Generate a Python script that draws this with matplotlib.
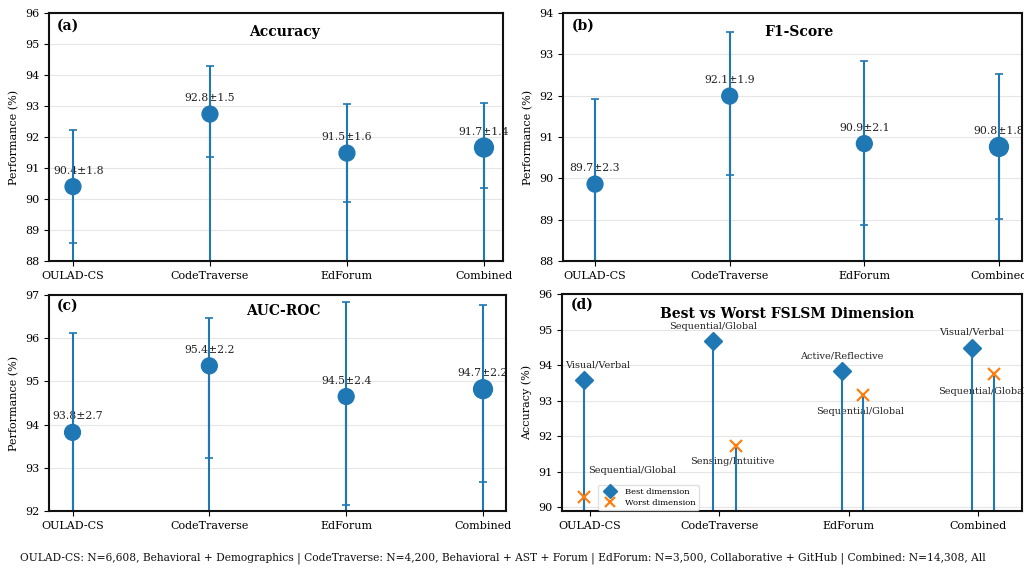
import matplotlib
matplotlib.use("Agg")
import matplotlib.pyplot as plt
import numpy as np

plt.rcParams['font.family'] = ['DejaVu Serif']

categories = ["OULAD-CS", "CodeTraverse", "EdForum", "Combined"]

# (a) Accuracy
acc_point = [90.40, 92.74, 91.48, 91.66]
acc_cap_hi = [92.23, 94.28, 93.07, 93.11]
acc_cap_lo = [88.59, 91.34, 89.91, 90.34]
acc_mean = [90.4, 92.8, 91.5, 91.7]
acc_std = [1.8, 1.5, 1.6, 1.4]

# (b) F1-Score
f1_point = [89.86, 91.99, 90.84, 90.76]
f1_cap_hi = [91.93, 93.55, 92.83, 92.52]
f1_cap_lo = [87.40, 90.08, 88.86, 89.01]
f1_mean = [89.7, 92.1, 90.9, 90.8]
f1_std = [2.3, 1.9, 2.1, 1.8]

# (c) AUC-ROC
auc_point = [93.82, 95.36, 94.65, 94.82]
auc_cap_hi = [96.11, 96.46, 96.83, 96.77]
auc_cap_lo = [91.10, 93.22, 92.15, 92.68]
auc_mean = [93.8, 95.4, 94.5, 94.7]
auc_std = [2.7, 2.2, 2.4, 2.2]

# (d) Best vs worst FSLSM dimension
best_acc = [93.57, 94.67, 93.83, 94.47]
best_dim = ["Visual/Verbal", "Sequential/Global", "Active/Reflective", "Visual/Verbal"]
worst_acc = [90.29, 91.73, 93.15, 93.76]
worst_dim = ["Sequential/Global", "Sensing/Intuitive", "Sequential/Global", "Sequential/Global"]

footer = ("OULAD-CS: N=6,608, Behavioral + Demographics | CodeTraverse: N=4,200, "
          "Behavioral + AST + Forum | EdForum: N=3,500, Collaborative + GitHub | "
          "Combined: N=14,308, All")

BLUE = "#1f77b4"
ORANGE = "#ff7f0e"
TXT = "#222222"

W, H = 1024, 570
fig = plt.figure(figsize=(W / 100, H / 100), dpi=100)


def px_axes(left, right, top, bottom):
    return fig.add_axes([left / W, (H - bottom) / H, (right - left) / W, (bottom - top) / H])


def style_axes(ax, ylim, xlim, ylabel):
    ax.set_ylim(*ylim)
    ax.set_xlim(*xlim)
    ax.set_xticks(range(len(categories)))
    ax.set_xticklabels(categories, fontsize=8)
    ax.tick_params(axis='y', labelsize=8)
    ax.yaxis.grid(True, color='#e6e6e6', lw=0.8)
    ax.set_axisbelow(True)
    for s in ax.spines.values():
        s.set_linewidth(1.5)
        s.set_color('#111111')
    ax.set_ylabel(ylabel, fontsize=8)


def metric_panel(ax, point, hi, lo, mean, std, ylim, xlim, title, tag, title_x, first_dx):
    x = np.arange(len(categories))
    point = np.array(point)
    ax.vlines(x, 0, point, color=BLUE, lw=1.5, zorder=2)
    ax.errorbar(x, point, yerr=[point - np.array(lo), np.array(hi) - point],
                fmt='none', ecolor=BLUE, elinewidth=1.5, capsize=3, capthick=1.2, zorder=2)
    sizes = [130, 130, 130, 185]
    ax.scatter(x, point, s=sizes, color=BLUE, zorder=4)
    for i, (xi, p, m, sd) in enumerate(zip(x, point, mean, std)):
        dx = first_dx if i == 0 else 0
        ax.annotate(f"{m:.1f}\u00b1{sd:.1f}", (xi, p), xytext=(dx, 11.5),
                    textcoords='offset points', ha='center', va='center',
                    fontsize=7.8, color=TXT, zorder=1)
    style_axes(ax, ylim, xlim, "Performance (%)")
    ax.text(title_x, 0.925, title, transform=ax.transAxes, ha='center', va='center',
            fontsize=10, fontweight='bold')
    ax.text(0.018, 0.95, tag, transform=ax.transAxes, ha='left', va='center',
            fontsize=10, fontweight='bold')


ax_a = px_axes(49, 503, 13, 261)
metric_panel(ax_a, acc_point, acc_cap_hi, acc_cap_lo, acc_mean, acc_std,
             (88, 96), (-0.175, 3.139), "Accuracy", "(a)", 0.518, 4)

ax_b = px_axes(563, 1022, 13, 261)
metric_panel(ax_b, f1_point, f1_cap_hi, f1_cap_lo, f1_mean, f1_std,
             (88, 94), (-0.238, 3.171), "F1-Score", "(b)", 0.514, 0)

ax_c = px_axes(49, 506, 295, 511)
metric_panel(ax_c, auc_point, auc_cap_hi, auc_cap_lo, auc_mean, auc_std,
             (92, 97), (-0.172, 3.168), "AUC-ROC", "(c)", 0.512, 4)

# (d)
ax_d = px_axes(562, 1022, 294, 511)
x = np.arange(len(categories))
best_x = x - 0.05
worst_x = x + np.array([-0.05, 0.13, 0.11, 0.12])
ax_d.vlines(best_x, 0, best_acc, color=BLUE, lw=1.5, zorder=2)
ax_d.vlines(worst_x, 0, worst_acc, color=BLUE, lw=1.5, zorder=2)
ax_d.plot(best_x, best_acc, 'D', color=BLUE, ms=9.5, ls='none', zorder=4, label="Best dimension")
ax_d.plot(worst_x, worst_acc, 'x', color=ORANGE, ms=9, mew=1.6, ls='none', zorder=4,
          label="Worst dimension")
best_off = [(10, 11), (0, 11), (0, 11), (0, 11.5)]
worst_off = [(35, 19.5), (-3, -11), (-2, -11.5), (-8, -13)]
for bx, by, lab, off in zip(best_x, best_acc, best_dim, best_off):
    ax_d.annotate(lab, (bx, by), xytext=off, textcoords='offset points',
                  ha='center', va='center', fontsize=7, color=TXT, zorder=1)
for wx, wy, lab, off in zip(worst_x, worst_acc, worst_dim, worst_off):
    ax_d.annotate(lab, (wx, wy), xytext=off, textcoords='offset points',
                  ha='center', va='center', fontsize=7, color=TXT, zorder=1)
style_axes(ax_d, (89.9, 96), (-0.217, 3.34), "Accuracy (%)")
ax_d.set_yticks(range(90, 97))
ax_d.text(0.489, 0.91, "Best vs Worst FSLSM Dimension", transform=ax_d.transAxes,
          ha='center', va='center', fontsize=10, fontweight='bold')
ax_d.text(0.018, 0.95, "(d)", transform=ax_d.transAxes, ha='left', va='center',
          fontsize=10, fontweight='bold')
ax_d.legend(loc='lower left', bbox_to_anchor=(0.07, -0.015), fontsize=6, markerscale=0.8,
            frameon=True, framealpha=0.9, edgecolor='#dddddd', handletextpad=0.8,
            borderpad=0.4, labelspacing=0.3)

fig.text(20 / W, (H - 558) / H, footer, ha='left', va='center', fontsize=7.7, color='#111111')

fig.savefig("out.png", dpi=100)
